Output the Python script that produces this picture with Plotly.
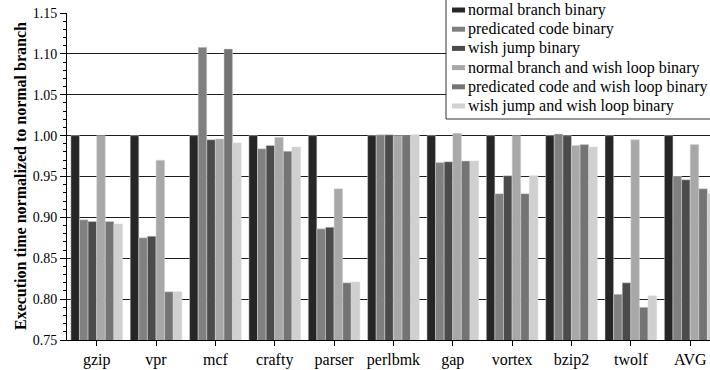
import plotly.graph_objects as go

# Benchmarks on the x axis
categories = ["gzip", "vpr", "mcf", "crafty", "parser", "perlbmk",
              "gap", "vortex", "bzip2", "twolf", "AVG"]

# Execution time normalized to the normal-branch binary
normal_branch = [1.000, 1.000, 1.000, 1.000, 1.000, 1.000, 1.000, 1.000, 1.000, 1.000, 1.000]
predicated = [0.897, 0.875, 1.108, 0.984, 0.886, 1.001, 0.967, 0.929, 1.002, 0.806, 0.950]
wish_jump = [0.895, 0.877, 0.995, 0.988, 0.888, 1.001, 0.968, 0.951, 1.000, 0.820, 0.946]
normal_wish_loop = [1.000, 0.970, 0.996, 0.998, 0.935, 1.000, 1.003, 1.000, 0.988, 0.995, 0.989]
predicated_wish_loop = [0.895, 0.809, 1.106, 0.981, 0.820, 1.000, 0.969, 0.929, 0.989, 0.790, 0.935]
wish_jump_wish_loop = [0.892, 0.809, 0.991, 0.986, 0.821, 1.001, 0.969, 0.951, 0.986, 0.804, 0.929]

series_names = [
    "normal branch binary",
    "predicated code binary",
    "wish jump binary",
    "normal branch and wish loop binary",
    "predicated code and wish loop binary",
    "wish jump and wish loop binary",
]
series_values = [normal_branch, predicated, wish_jump,
                 normal_wish_loop, predicated_wish_loop, wish_jump_wish_loop]
series_colors = ["#262626", "#808080", "#4b4b4b", "#a8a8a8", "#747474", "#d0d0d0"]

y_ticks = [0.75, 0.80, 0.85, 0.90, 0.95, 1.00, 1.05, 1.10, 1.15]

W, H = 710, 370
ML, MR, MT, MB = 67, 0, 13, 30
PW, PH = W - ML - MR, H - MT - MB
SERIF = "Liberation Serif"


def xp(px):
    return (px - ML) / PW


def yp(py):
    return (H - MB - py) / PH


fig = go.Figure()
for name, vals, col in zip(series_names, series_values, series_colors):
    fig.add_trace(go.Bar(
        x=categories, y=vals, name=name,
        marker=dict(color=col, line=dict(color="#d8d8d8", width=0.5)),
        showlegend=False,
    ))

# Legend box drawn as a framed panel with swatches and labels
shapes = [dict(type="rect", xref="paper", yref="paper",
               x0=xp(446), x1=xp(730), y0=yp(119), y1=yp(-3),
               fillcolor="white", line=dict(color="#333333", width=1),
               layer="above")]
annotations = []
row_y0, row_step = 10, 19.2
for i, (name, col) in enumerate(zip(series_names, series_colors)):
    cy = row_y0 + i * row_step
    shapes.append(dict(type="rect", xref="paper", yref="paper",
                       x0=xp(452), x1=xp(465), y0=yp(cy + 2.5), y1=yp(cy - 2.5),
                       fillcolor=col, line=dict(width=0), layer="above"))
    annotations.append(dict(xref="paper", yref="paper", x=xp(466), y=yp(cy),
                            xanchor="left", yanchor="middle", showarrow=False,
                            text=name, font=dict(family=SERIF, size=16, color="black")))

# Y axis title
annotations.append(dict(xref="paper", yref="paper", x=xp(20), y=yp(176),
                        xanchor="center", yanchor="middle", showarrow=False,
                        textangle=-90,
                        text="<b>Execution time normalized to normal branch</b>",
                        font=dict(family=SERIF, size=16, color="black")))

fig.update_layout(
    width=W, height=H,
    margin=dict(l=ML, r=MR, t=MT, b=MB, pad=0, autoexpand=False),
    paper_bgcolor="white", plot_bgcolor="white",
    barmode="group", bargap=0.13, bargroupgap=0,
    font=dict(family=SERIF, size=14, color="black"),
    shapes=shapes, annotations=annotations,
    xaxis=dict(
        type="category", range=[-0.5, 10.334],
        showline=True, linecolor="black", linewidth=1,
        ticks="outside", ticklen=5, tickcolor="black",
        tickfont=dict(family=SERIF, size=16, color="black"),
        showgrid=False, zeroline=False,
    ),
    yaxis=dict(
        range=[0.75, 1.15], tickvals=y_ticks,
        ticktext=[f"{v:.2f}" for v in y_ticks],
        showline=True, linecolor="black", linewidth=1,
        ticks="outside", ticklen=6, tickcolor="black",
        tickfont=dict(family=SERIF, size=14, color="black"),
        showgrid=True, gridcolor="#1e1e1e", gridwidth=1,
        zeroline=False,
        minor=dict(dtick=0.01, tick0=0.75, ticks="outside", ticklen=3,
                   tickcolor="black", showgrid=False),
    ),
)

fig.write_html("out.html")
